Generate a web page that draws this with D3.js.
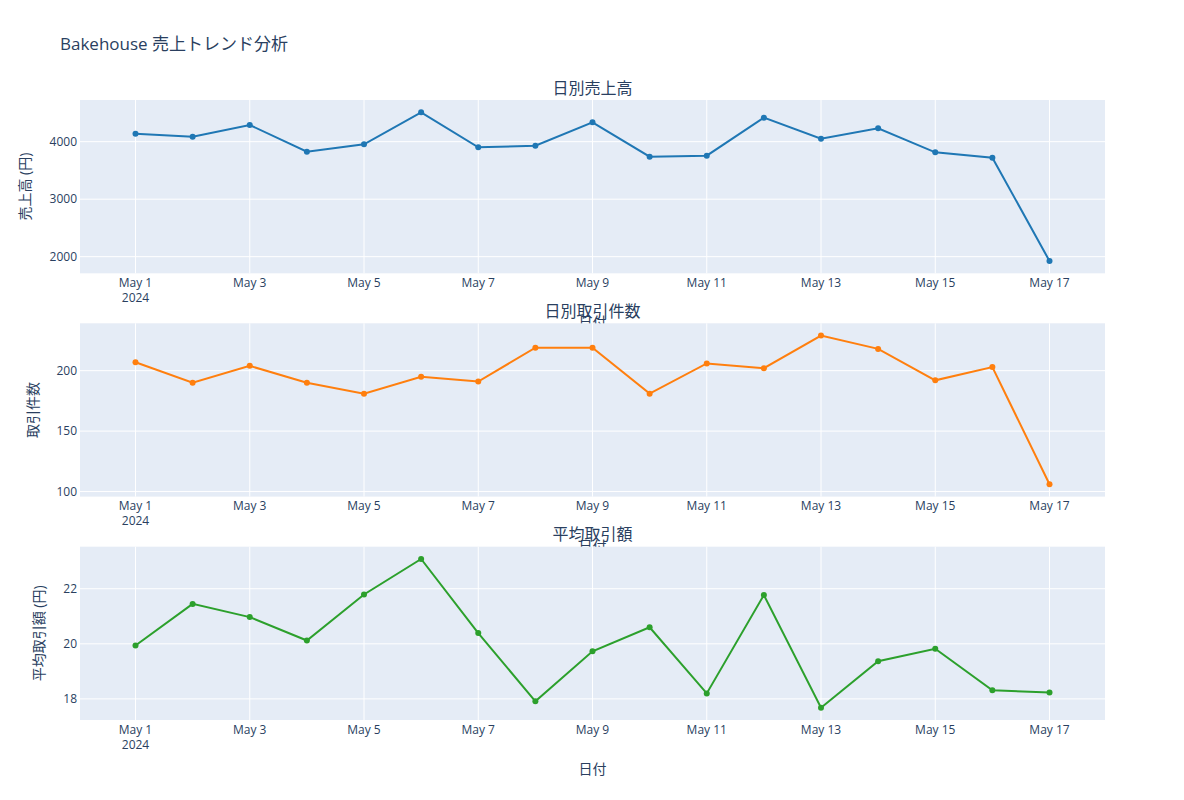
<!DOCTYPE html>
<meta charset="utf-8">
<script src="https://d3js.org/d3.v7.min.js"></script>
<style>
  body { margin: 0; background: #fff; }
  svg text { font-family: "Open Sans", "Noto Sans CJK JP", sans-serif; fill: #2a3f5f; }
</style>
<div id="my_dataviz"></div>
<script>

// data
var dates = ["2024-05-01","2024-05-02","2024-05-03","2024-05-04","2024-05-05","2024-05-06",
             "2024-05-07","2024-05-08","2024-05-09","2024-05-10","2024-05-11","2024-05-12",
             "2024-05-13","2024-05-14","2024-05-15","2024-05-16","2024-05-17"];
var sales = [4139, 4087, 4290, 3826, 3954, 4511, 3902, 3931, 4336, 3739, 3757, 4418, 4052, 4232, 3815, 3722, 1925];
var counts = [207, 190, 204, 190, 181, 195, 191, 219, 219, 181, 206, 202, 229, 218, 192, 203, 106];
var avgPrice = [19.94, 21.45, 20.97, 20.12, 21.79, 23.08, 20.39, 17.91, 19.73, 20.60, 18.20, 21.77, 17.68, 19.37, 19.82, 18.31, 18.23];

var xTicks = ["2024-05-01","2024-05-03","2024-05-05","2024-05-07","2024-05-09",
              "2024-05-11","2024-05-13","2024-05-15","2024-05-17"];
var salesTicks = [2000, 3000, 4000];
var countTicks = [100, 150, 200];
var avgTicks = [18, 20, 22];

var parse = d3.timeParse("%Y-%m-%d");
var fmt = d3.timeFormat("%b %-d");

var width = 1184, height = 800;
var left = 80, right = 1105;
var panelH = 173.3;

var panels = [
  {title: "日別売上高", ytitle: "売上高 (円)", values: sales, ticks: salesTicks, color: "#1f77b4", top: 100, ytx: 25},
  {title: "日別取引件数", ytitle: "取引件数", values: counts, ticks: countTicks, color: "#ff7f0e", top: 323.3, ytx: 33},
  {title: "平均取引額", ytitle: "平均取引額 (円)", values: avgPrice, ticks: avgTicks, color: "#2ca02c", top: 546.7, ytx: 39}
];

var svg = d3.select("#my_dataviz")
  .append("svg")
    .attr("width", width)
    .attr("height", height);

// main title
svg.append("text")
  .attr("x", 60)
  .attr("y", 50)
  .attr("font-size", 17)
  .text("Bakehouse 売上トレンド分析");

// x scale, padded like plotly autorange
var xDates = dates.map(parse);
var xPad = 55.5;
var x0 = d3.scaleTime().domain(d3.extent(xDates)).range([left + xPad, right - xPad]);
var x = d3.scaleTime().domain([x0.invert(left), x0.invert(right)]).range([left, right]);

panels.forEach(function(p) {
  var top = p.top, bottom = p.top + panelH;
  var yPad = 12.3;
  var y0 = d3.scaleLinear().domain(d3.extent(p.values)).range([bottom - yPad, top + yPad]);
  var y = d3.scaleLinear().domain([y0.invert(bottom), y0.invert(top)]).range([bottom, top]);

  var g = svg.append("g");

  g.append("rect")
    .attr("x", left)
    .attr("y", top)
    .attr("width", right - left)
    .attr("height", panelH)
    .attr("fill", "#E5ECF6");

  // grid
  g.selectAll(".vgrid")
    .data(xTicks)
    .join("line")
      .attr("x1", d => x(parse(d)))
      .attr("x2", d => x(parse(d)))
      .attr("y1", top)
      .attr("y2", bottom)
      .attr("stroke", "#fff")
      .attr("stroke-width", 1);

  g.selectAll(".hgrid")
    .data(p.ticks)
    .join("line")
      .attr("x1", left)
      .attr("x2", right)
      .attr("y1", d => y(d))
      .attr("y2", d => y(d))
      .attr("stroke", "#fff")
      .attr("stroke-width", 1);

  // y tick labels
  g.selectAll(".ylab")
    .data(p.ticks)
    .join("text")
      .attr("x", left - 3)
      .attr("y", d => y(d))
      .attr("dy", "0.35em")
      .attr("text-anchor", "end")
      .attr("font-size", 12)
      .text(d => d);

  // x tick labels
  var xl = g.selectAll(".xlab")
    .data(xTicks)
    .join("text")
      .attr("x", d => x(parse(d)))
      .attr("y", bottom + 13.5)
      .attr("text-anchor", "middle")
      .attr("font-size", 12);
  xl.append("tspan").text(d => fmt(parse(d)));
  xl.filter((d, i) => i === 0)
    .append("tspan")
      .attr("x", d => x(parse(d)))
      .attr("dy", 15)
      .text(d => d3.timeFormat("%Y")(parse(d)));

  // titles
  g.append("text")
    .attr("x", (left + right) / 2)
    .attr("y", top - 6.5)
    .attr("text-anchor", "middle")
    .attr("font-size", 16)
    .text(p.title);

  g.append("text")
    .attr("x", (left + right) / 2)
    .attr("y", bottom + 54)
    .attr("text-anchor", "middle")
    .attr("font-size", 14)
    .text("日付");

  g.append("text")
    .attr("transform", "translate(" + p.ytx + "," + ((top + bottom) / 2) + ") rotate(-90)")
    .attr("dy", "0.35em")
    .attr("text-anchor", "middle")
    .attr("font-size", 14)
    .text(p.ytitle);

  // line + markers
  var pts = p.values.map((v, i) => ({date: xDates[i], value: v}));

  g.append("path")
    .datum(pts)
    .attr("fill", "none")
    .attr("stroke", p.color)
    .attr("stroke-width", 2)
    .attr("d", d3.line().x(d => x(d.date)).y(d => y(d.value)));

  g.selectAll(".dot")
    .data(pts)
    .join("circle")
      .attr("cx", d => x(d.date))
      .attr("cy", d => y(d.value))
      .attr("r", 3)
      .attr("fill", p.color);
});

</script>
